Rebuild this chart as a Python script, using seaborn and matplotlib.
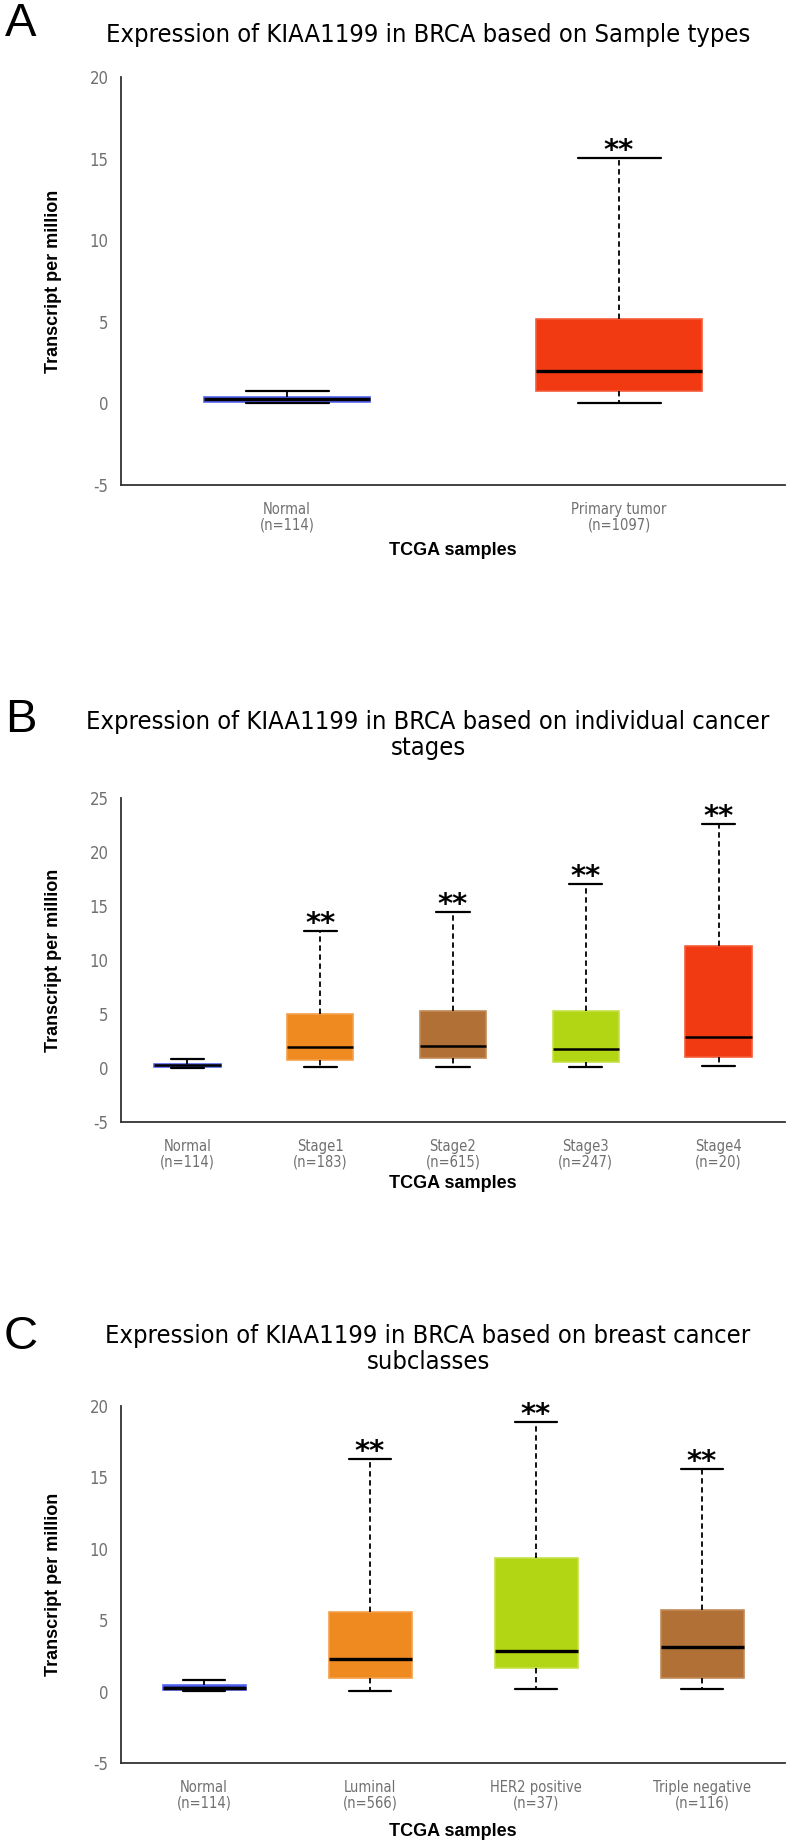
import matplotlib
matplotlib.use("Agg")
import matplotlib.pyplot as plt
import numpy as np
import pandas as pd
import seaborn as sns

# five-number summaries: [min, q1, median, q3, max]
sample_groups = ["Normal\n(n=114)", "Primary tumor\n(n=1097)"]
sample_stats = [
    [0.00, 0.10, 0.28, 0.39, 0.78],
    [0.00, 0.73, 1.96, 5.20, 15.05],
]

stage_groups = ["Normal\n(n=114)", "Stage1\n(n=183)", "Stage2\n(n=615)",
                "Stage3\n(n=247)", "Stage4\n(n=20)"]
stage_stats = [
    [0.03, 0.08, 0.24, 0.39, 0.87],
    [0.08, 0.74, 1.97, 5.03, 12.66],
    [0.08, 0.92, 2.08, 5.24, 14.45],
    [0.08, 0.60, 1.76, 5.32, 17.00],
    [0.21, 1.00, 2.87, 11.29, 22.60],
]

subclass_groups = ["Normal\n(n=114)", "Luminal\n(n=566)", "HER2 positive\n(n=37)",
                   "Triple negative\n(n=116)"]
subclass_stats = [
    [0.02, 0.11, 0.26, 0.44, 0.83],
    [0.04, 0.92, 2.25, 5.58, 16.30],
    [0.15, 1.68, 2.84, 9.37, 18.90],
    [0.15, 0.92, 3.09, 5.73, 15.56],
]

BLUE = "#3646c8"
RED = "#f23a12"
ORANGE = "#ef8a20"
BROWN = "#b07036"
LIME = "#b3d614"

EDGE = {BLUE: "#5566f0", RED: "#f65a38", ORANGE: "#f3a04a",
        BROWN: "#c28a58", LIME: "#c5e048"}

W, H = 790, 1843
TITLE_FONT = dict(family="DejaVu Sans", fontstretch="condensed", fontsize=18.3)
TICK_FONT = dict(family="DejaVu Sans", fontstretch="condensed")
GRAY = "#707070"
AXIS = "#333333"

sns.set_style("white")
fig = plt.figure(figsize=(W / 100, H / 100), dpi=100)


def fig_y(px):
    return 1 - px / H


def draw_panel(letter, title, title_y, top_px, bottom_px, groups, stats, colors,
               ylim, yticks, median_lw, letter_y, xlabel_off):
    left_px, right_px = 121, 785
    ax = fig.add_axes([left_px / W, fig_y(bottom_px), (right_px - left_px) / W,
                       (bottom_px - top_px) / H])
    df = pd.DataFrame({
        "group": np.repeat(groups, 5),
        "tpm": np.concatenate(stats),
    })
    sns.boxplot(
        data=df, x="group", y="tpm", hue="group", order=groups, hue_order=groups,
        palette=dict(zip(groups, colors)), saturation=1, width=0.5,
        whis=(0, 100), linecolor="black", linewidth=1.5, legend=False, ax=ax,
        medianprops=dict(linewidth=median_lw, color="black"),
        whiskerprops=dict(linewidth=1.3, linestyle=(0, (3, 2))),
        capprops=dict(linewidth=1.6),
    )
    for patch, c in zip(ax.patches, colors):
        patch.set_edgecolor(EDGE[c])
        patch.set_linewidth(1.2)

    # significance marks above every tumour group
    for i, s in enumerate(stats[1:], start=1):
        ax.annotate("**", xy=(i, s[4]), xytext=(0, -5), textcoords="offset points",
                    ha="center", va="bottom", fontsize=21, fontweight="bold",
                    family="DejaVu Sans", color="black")

    ax.set_ylim(*ylim)
    ax.set_xlim(-0.5, len(groups) - 0.5)
    ax.set_yticks(yticks)
    ax.set_yticklabels([str(t) for t in yticks], color=GRAY, fontsize=12, **TICK_FONT)
    ax.set_xticks(range(len(groups)))
    ax.set_xticklabels(groups, color=GRAY, fontsize=10.5, linespacing=1.1, **TICK_FONT)
    ax.tick_params(axis="x", length=0, pad=12)
    ax.tick_params(axis="y", length=6, width=1.2, color=AXIS, pad=3)
    for side in ["top", "right"]:
        ax.spines[side].set_visible(False)
    for side in ["left", "bottom"]:
        ax.spines[side].set_color(AXIS)
        ax.spines[side].set_linewidth(1.3)

    ax.set_ylabel("Transcript per million", fontsize=13, fontweight="bold",
                  family="Liberation Sans", color="black")
    ax.yaxis.set_label_coords((62 - left_px) / (right_px - left_px), 0.5)
    ax.set_xlabel("TCGA samples", fontsize=13, fontweight="bold",
                  family="Liberation Sans", color="black", va="center")
    ax.xaxis.set_label_coords(0.5, -xlabel_off / (bottom_px - top_px))

    fig.text(428 / W, fig_y(title_y), title, ha="center", va="center",
             linespacing=1.13, color="black", **TITLE_FONT)
    fig.text(21 / W, fig_y(letter_y), letter, ha="center", va="center",
             fontsize=34, family="Liberation Sans", color="black")
    return ax


draw_panel("A", "Expression of KIAA1199 in BRCA based on Sample types", 35,
           77, 485, sample_groups, sample_stats, [BLUE, RED],
           (-5, 20), [-5, 0, 5, 10, 15, 20], 2.4, 24, 66)

draw_panel("B", "Expression of KIAA1199 in BRCA based on individual cancer\nstages", 735,
           798, 1122, stage_groups, stage_stats, [BLUE, ORANGE, BROWN, LIME, RED],
           (-5, 25), [-5, 0, 5, 10, 15, 20, 25], 1.8, 720, 61)

draw_panel("C", "Expression of KIAA1199 in BRCA based on breast cancer\nsubclasses", 1349,
           1406, 1763, subclass_groups, subclass_stats, [BLUE, ORANGE, LIME, BROWN],
           (-5, 20), [-5, 0, 5, 10, 15, 20], 2.4, 1337, 68)

fig.savefig("out.png", dpi=100)
